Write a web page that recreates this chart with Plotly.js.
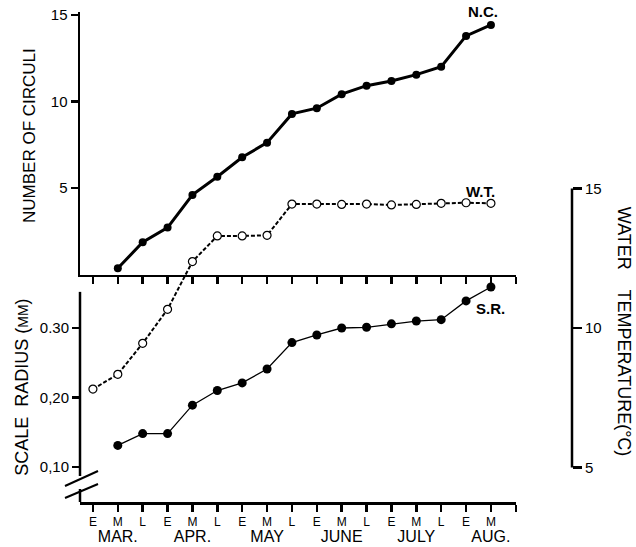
<!DOCTYPE html>
<html>
<head>
<meta charset="utf-8">
<script src="https://cdn.plot.ly/plotly-3.0.1.min.js"></script>
<style>html,body{margin:0;padding:0;background:#fff;}#chart{width:636px;height:547px;}</style>
</head>
<body>
<div id="chart"></div>
<script>
// ---- data ----
const categories = ['MAR. E','MAR. M','MAR. L','APR. E','APR. M','APR. L','MAY E','MAY M','MAY L','JUNE E','JUNE M','JUNE L','JULY E','JULY M','JULY L','AUG. E','AUG. M','AUG. L'];
const periodLabels = ['E','M','L','E','M','L','E','M','L','E','M','L','E','M','L','E','M',''];
const monthLabels = ['MAR.','APR.','MAY','JUNE','JULY','AUG.'];
const monthCenters = ['MAR. M','APR. M','MAY M','JUNE M','JULY M','AUG. M'];
const sampleDates = categories.slice(0, 17);
const numberOfCirculi = [null,0.36,1.86,2.71,4.60,5.65,6.77,7.62,9.28,9.61,10.42,10.91,11.18,11.55,12.01,13.79,14.42];
const scaleRadius = [null,0.131,0.148,0.148,0.189,0.210,0.221,0.241,0.279,0.290,0.300,0.301,0.306,0.310,0.312,0.339,0.359];
const waterTemp = [7.81,8.34,9.45,10.67,12.38,13.30,13.30,13.32,14.44,14.44,14.43,14.44,14.41,14.43,14.47,14.49,14.47];
const ncTicks = [5,10,15];
const srTicks = [0.10,0.20,0.30];
const srTickText = ['0,10','0,20','0.30'];
const wtTicks = [5,10,15];

const FONT = 'Liberation Sans, Arial, sans-serif';

// two-row tick text: period letter, then month name under the middle period
const xTickText = categories.map((c, i) => {
  const k = monthCenters.indexOf(c);
  return k >= 0 ? periodLabels[i] + '<br><span style="font-size:16px">' + monthLabels[k] + '</span>' : periodLabels[i];
});

const traces = [
  {x: sampleDates, y: numberOfCirculi, xaxis:'x', yaxis:'y', mode:'lines+markers', name:'N.C.',
   line:{color:'#000', width:3}, marker:{color:'#000', size:8}, cliponaxis:false},
  {x: sampleDates, y: scaleRadius, xaxis:'x2', yaxis:'y2', mode:'lines+markers', name:'S.R.',
   line:{color:'#000', width:1.3}, marker:{color:'#000', size:9}, cliponaxis:false},
  {x: sampleDates, y: waterTemp, xaxis:'x', yaxis:'y3', mode:'lines+markers', name:'W.T.',
   line:{color:'#000', width:2, dash:'4px,2px'}, marker:{color:'#fff', size:8, line:{color:'#000', width:1.2}}, cliponaxis:false}
];

const dx = 0.8868;
const common = {type:'category', categoryorder:'array', categoryarray: categories, range:[-0.52, 17.02],
  showline:true, linecolor:'#000', linewidth:2.5, ticks:'outside', tickcolor:'#000', tickwidth:2.5,
  showgrid:false, zeroline:false, domain:[0, dx], fixedrange:true};

const layout = {
  width:636, height:547,
  margin:{l:80, r:64, t:12, b:45},
  paper_bgcolor:'#fff', plot_bgcolor:'rgba(0,0,0,0)',
  showlegend:false,
  font:{family:FONT, color:'#000', size:14},
  xaxis: Object.assign({}, common, {anchor:'y', ticklen:7, showticklabels:false}),
  xaxis2: Object.assign({}, common, {anchor:'y2', matches:'x', ticklen:7, ticklabelstandoff:0, showticklabels:true,
     tickangle:0, automargin:false, tickvals: categories, ticktext: xTickText, tickfont:{size:12, family:FONT}}),
  yaxis: {domain:[0.4633, 1], anchor:'x', range:[-0.03, 15.17], showline:true, linecolor:'#000', linewidth:2.5,
     ticks:'outside', ticklen:7, tickwidth:2.5, tickcolor:'#000', tickvals: ncTicks, showgrid:false, zeroline:false,
     tickfont:{size:15}},
  yaxis2: {domain:[0, 0.4633], anchor:'x2', range:[0.0496, 0.3763], showline:false,
     ticks:'outside', ticklen:7, tickwidth:2.5, tickcolor:'#000', tickvals: srTicks, ticktext: srTickText,
     showgrid:false, zeroline:false, tickfont:{size:15}},
  yaxis3: {domain:[0, 1], anchor:'free', position:1, side:'right', range:[3.7634, 21.326], showline:false,
     ticks:'outside', ticklen:9, tickwidth:2.5, tickcolor:'#000', tickvals: wtTicks,
     showgrid:false, zeroline:false, tickfont:{size:15}},
  shapes: [
    // scale radius axis line (broken)
    {type:'line', xref:'paper', yref:'y2', x0:0, x1:0, y0:0.087, y1:0.352, line:{color:'#000', width:2.5}},
    {type:'line', xref:'paper', yref:'y2', x0:0, x1:0, y0:0.0496, y1:0.0683, line:{color:'#000', width:2.5}},
    {type:'line', xref:'paper', yref:'paper', x0:-0.0305, y0:0.0327, x1:0.0366, y1:0.0633, line:{color:'#000', width:2}},
    {type:'line', xref:'paper', yref:'paper', x0:-0.0305, y0:0.0082, x1:0.0366, y1:0.0367, line:{color:'#000', width:2}},
    // water temperature axis line
    {type:'line', xref:'paper', yref:'y3', x0:1, x1:1, y0:5, y1:15, line:{color:'#000', width:2.5}}
  ],
  annotations: [
    {text:'NUMBER OF CIRCULI', xref:'paper', yref:'paper', x:-0.1016, y:0.747, textangle:-90, showarrow:false,
     xanchor:'center', yanchor:'middle', font:{size:17}},
    {text:'SCALE  RADIUS (<span style="font-size:14px">MM</span>)', xref:'paper', yref:'paper', x:-0.118, y:0.235, textangle:-90, showarrow:false,
     xanchor:'center', yanchor:'middle', font:{size:18}},
    {text:'WATER    TEMPERATURE(°C)', xref:'paper', yref:'paper', x:1.106, y:0.347, textangle:90, showarrow:false,
     xanchor:'center', yanchor:'middle', font:{size:18}},
    {text:'<b>N.C.</b>', xref:'x', yref:'y', x:'AUG. M', y:numberOfCirculi[16], xshift:-8, yshift:13, showarrow:false, font:{size:15}},
    {text:'<b>W.T.</b>', xref:'x', yref:'y3', x:'AUG. M', y:waterTemp[16], xshift:-10, yshift:12, showarrow:false, font:{size:15}},
    {text:'<b>S.R.</b>', xref:'x2', yref:'y2', x:'AUG. M', y:scaleRadius[16], xshift:0, yshift:-21, showarrow:false, font:{size:15}}
  ]
};

Plotly.newPlot('chart', traces, layout, {staticPlot:true});
</script>
</body>
</html>
